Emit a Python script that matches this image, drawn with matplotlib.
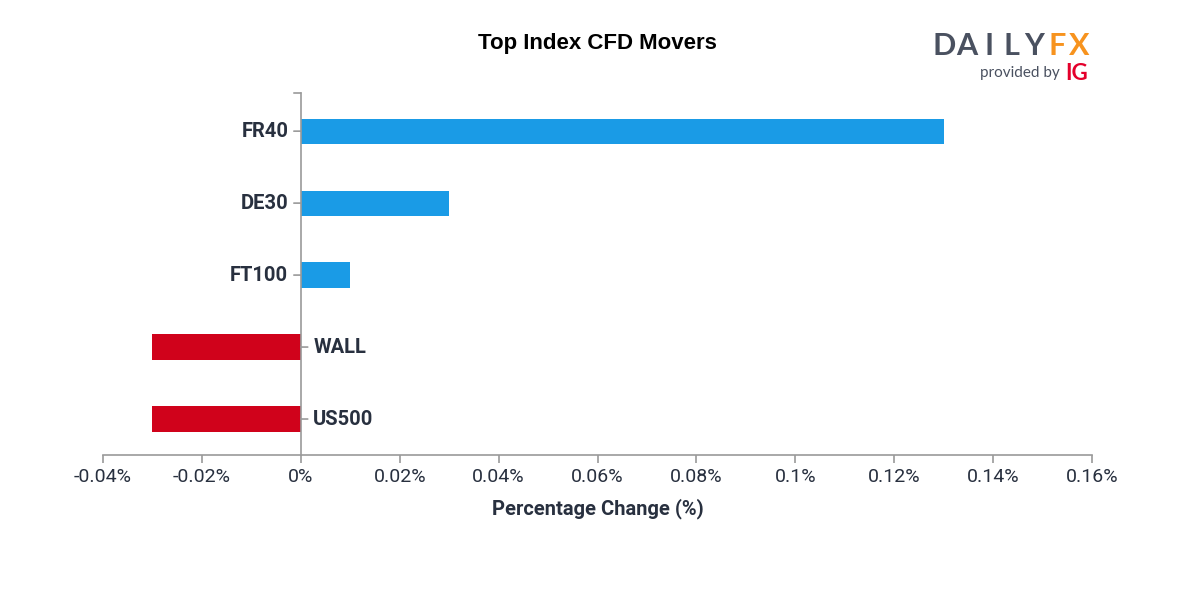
import matplotlib.pyplot as plt

plt.rcParams['font.family'] = ['Roboto', 'DejaVu Sans']

# データ
markets = ['FR40', 'DE30', 'FT100', 'WALL', 'US500']
changes = [0.13, 0.03, 0.01, -0.03, -0.03]
x_ticks = [-0.04, -0.02, 0, 0.02, 0.04, 0.06, 0.08, 0.1, 0.12, 0.14, 0.16]
x_tick_labels = ['-0.04%', '-0.02%', '0%', '0.02%', '0.04%', '0.06%', '0.08%',
                 '0.1%', '0.12%', '0.14%', '0.16%']

BLUE = '#1a9be6'
RED = '#d0021b'
TEXT = '#28303f'
AXIS = '#9a9a9a'
COND = ['Roboto', 'DejaVu Sans']

fig = plt.figure(figsize=(12, 6), dpi=100)
ax = fig.add_axes([103 / 1200, 1 - 455 / 600, 989 / 1200, 362 / 600])

y_pos = list(range(len(markets)))[::-1]
colors = [BLUE if v >= 0 else RED for v in changes]
ax.barh(y_pos, changes, height=0.35, color=colors)

ax.set_xlim(-0.04, 0.16)
ax.set_ylim(-0.5, 4.53)
ax.set_xticks(x_ticks)
ax.set_xticklabels(x_tick_labels)
ax.tick_params(axis='x', direction='out', length=6, width=1.2, color=AXIS,
               labelsize=14, labelcolor=TEXT, pad=3)
ax.set_yticks([])

for s in ['top', 'right']:
    ax.spines[s].set_visible(False)
ax.spines['left'].set_position(('data', 0))
for s in ['left', 'bottom']:
    ax.spines[s].set_color(AXIS)
    ax.spines[s].set_linewidth(1.2)

# 銘柄ラベル（プラスは左、マイナスは右）
for y, name, v in zip(y_pos, markets, changes):
    side = -1 if v >= 0 else 1
    ax.annotate('', xy=(0, y), xytext=(side * 5, 0), textcoords='offset points',
                arrowprops=dict(arrowstyle='-', color=AXIS, lw=1.2,
                                shrinkA=0, shrinkB=0))
    ax.annotate(name, xy=(0, y), xytext=(side * 9, 0), textcoords='offset points',
                ha='right' if v >= 0 else 'left', va='center',
                fontsize=14.5, fontweight='bold', color=TEXT, family=COND)

# 上端の目盛
ax.annotate('', xy=(0, 1), xycoords=('data', 'axes fraction'),
            xytext=(-5, 0), textcoords='offset points',
            arrowprops=dict(arrowstyle='-', color=AXIS, lw=1.2, shrinkA=0, shrinkB=0))

ax.set_xlabel('Percentage Change (%)', fontsize=14.5, fontweight='bold',
              color=TEXT, family=COND, labelpad=9)

fig.text(0.4975, 1 - 44 / 600, 'Top Index CFD Movers', ha='center', va='center',
         fontsize=16, fontweight='bold', color='black', family='Liberation Sans')

# ロゴ
logo = 'DAILYFX'
for i, ch in enumerate(logo):
    c = '#4a5160' if i < 5 else '#f7931e'
    fig.text((944 + i * 22.6) / 1200, 1 - 46 / 600, ch, ha='center', va='center',
             fontsize=22, fontweight='bold', color=c, family=['Lato', 'DejaVu Sans'])
fig.text(1060 / 1200, 1 - 73 / 600, 'provided by', ha='right', va='center',
         fontsize=11, color='#4a5160', family=['Lato', 'DejaVu Sans'])
fig.text(1065 / 1200, 1 - 73 / 600, 'IG', ha='left', va='center',
         fontsize=16, fontweight='bold', color='#e4002b', family=['Lato', 'DejaVu Sans'])

fig.savefig('out.png', dpi=100, facecolor='white')
